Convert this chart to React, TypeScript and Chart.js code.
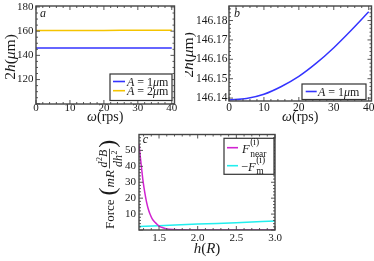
import React, { useEffect, useRef } from 'react';
import { Chart, registerables } from 'chart.js';
Chart.register(...registerables);

const FONT = "'Liberation Serif', 'Times New Roman', serif";
const INK = '#1a1a1a';
const FRAME = '#444';
const BLUE = '#3434ff';
const YELLOW = '#f5c400';
const MAGENTA = '#d024d0';
const CYAN = '#22eeee';

// Panel a / b : rotation rate vs. gap
const omega = [0, 5, 10, 15, 20, 25, 30, 35, 40];
const height1um = [146.139, 146.1398, 146.142, 146.146, 146.1512, 146.158, 146.166, 146.175, 146.1845];
const height2um = [160.55, 160.56, 160.58, 160.6, 160.63, 160.66, 160.7, 160.75, 160.8];
const omegaTicks = [0, 10, 20, 30, 40];
const heightTicksA = [120, 140, 160, 180];
const heightTicksB = [146.14, 146.15, 146.16, 146.17, 146.18];

// Panel c : forces vs. h
const hNear = [1.241, 1.26, 1.276, 1.29, 1.306, 1.325, 1.341, 1.36, 1.383, 1.41, 1.448, 1.48, 1.513, 1.55, 1.6, 1.7, 1.8, 1.9, 2.0, 2.2, 2.5, 3.0];
const forceNear = [54, 45, 38, 32, 26.5, 21, 17, 13.3, 10, 7.2, 4.8, 3.3, 2.1, 1.4, 0.7, 0.25, 0.08, 0.03, 0.01, 0.005, 0.002, 0.001];
const hM = [1.241, 1.5, 2.0, 2.5, 3.0];
const forceM = [2.2, 2.7, 3.7, 4.6, 5.6];
const hTicks = [1.5, 2.0, 2.5, 3.0];
const forceTicks = [10, 20, 30, 40, 50];

type Run = { t: string; it?: boolean; sz?: number; dy?: number; sup?: string; sub?: string; ssz?: number; supDy?: number; subDy?: number };

function font(sz: number, it?: boolean) {
  return `${it ? 'italic ' : ''}${sz}px ${FONT}`;
}

function runWidth(ctx: CanvasRenderingContext2D, r: Run, base: number) {
  ctx.font = font(r.sz ?? base, r.it);
  let w = ctx.measureText(r.t).width;
  if (r.sup || r.sub) {
    ctx.font = font(r.ssz ?? base * 0.72);
    const a = r.sup ? ctx.measureText(r.sup).width : 0;
    const b = r.sub ? ctx.measureText(r.sub).width : 0;
    w += Math.max(a, b) + 0.5;
  }
  return w;
}

function drawRich(ctx: CanvasRenderingContext2D, runs: Run[], x: number, y: number, base: number, align: 'left' | 'center' = 'left') {
  let total = 0;
  for (const r of runs) total += runWidth(ctx, r, base);
  let cx = align === 'center' ? x - total / 2 : x;
  ctx.textAlign = 'left';
  ctx.textBaseline = 'alphabetic';
  ctx.fillStyle = INK;
  for (const r of runs) {
    ctx.font = font(r.sz ?? base, r.it);
    ctx.fillText(r.t, cx, y + (r.dy ?? 0));
    cx += ctx.measureText(r.t).width;
    if (r.sup || r.sub) {
      ctx.font = font(r.ssz ?? base * 0.72);
      let w = 0;
      if (r.sup) {
        ctx.fillText(r.sup, cx + 0.5, y + (r.supDy ?? -base * 0.45));
        w = Math.max(w, ctx.measureText(r.sup).width);
      }
      if (r.sub) {
        ctx.fillText(r.sub, cx + 0.5, y + (r.subDy ?? base * 0.25));
        w = Math.max(w, ctx.measureText(r.sub).width);
      }
      cx += w + 0.5;
    }
  }
  return total;
}

function drawRichRot(ctx: CanvasRenderingContext2D, runs: Run[], bx: number, cy: number, base: number) {
  ctx.save();
  ctx.translate(bx, cy);
  ctx.rotate(-Math.PI / 2);
  drawRich(ctx, runs, 0, 0, base, 'center');
  ctx.restore();
}

function line(ctx: CanvasRenderingContext2D, x1: number, y1: number, x2: number, y2: number) {
  ctx.beginPath();
  ctx.moveTo(x1, y1);
  ctx.lineTo(x2, y2);
  ctx.stroke();
}

function frameTicks(ctx: CanvasRenderingContext2D, chart: any, xMajorStep: number, xMinorStep: number, yMajorStep: number, yMinorStep: number) {
  const { left, right, top, bottom } = chart.chartArea;
  const xs = chart.scales.x;
  const ys = chart.scales.y;
  ctx.save();
  ctx.strokeStyle = FRAME;
  ctx.lineWidth = 0.9;
  const eps = 1e-9;
  const x0 = Math.ceil(xs.min / xMinorStep - eps) * xMinorStep;
  for (let v = x0; v <= xs.max + eps; v += xMinorStep) {
    const major = Math.abs(v / xMajorStep - Math.round(v / xMajorStep)) < 1e-6;
    const L = major ? 4 : 2;
    const p = xs.getPixelForValue(v);
    line(ctx, p, bottom, p, bottom - L);
    line(ctx, p, top, p, top + L);
  }
  const y0 = Math.ceil(ys.min / yMinorStep - eps) * yMinorStep;
  for (let v = y0; v <= ys.max + eps; v += yMinorStep) {
    const major = Math.abs(v / yMajorStep - Math.round(v / yMajorStep)) < 1e-6;
    const L = major ? 4 : 2;
    const p = ys.getPixelForValue(v);
    line(ctx, left, p, left + L, p);
    line(ctx, right, p, right - L, p);
  }
  ctx.lineWidth = 1.4;
  ctx.strokeRect(left, top, right - left, bottom - top);
  ctx.restore();
}

function legendBox(ctx: CanvasRenderingContext2D, x1: number, y1: number, x2: number, y2: number) {
  ctx.save();
  ctx.fillStyle = '#fff';
  ctx.fillRect(x1, y1, x2 - x1, y2 - y1);
  ctx.strokeStyle = '#333';
  ctx.lineWidth = 1.2;
  ctx.strokeRect(x1, y1, x2 - x1, y2 - y1);
  ctx.restore();
}

function legendLine(ctx: CanvasRenderingContext2D, color: string, x1: number, x2: number, y: number) {
  ctx.save();
  ctx.strokeStyle = color;
  ctx.lineWidth = 1.6;
  line(ctx, x1, y, x2, y);
  ctx.restore();
}

const omegaTitle: Run[] = [{ t: 'ω', it: true }, { t: '(rps)' }];
const heightTitle: Run[] = [{ t: '2' }, { t: 'h', it: true }, { t: '(' }, { t: 'μ', it: true }, { t: 'm)' }];
const amp1: Run[] = [{ t: 'A', it: true }, { t: ' = 1' }, { t: 'μ', it: true }, { t: 'm' }];
const amp2: Run[] = [{ t: 'A', it: true }, { t: ' = 2' }, { t: 'μ', it: true }, { t: 'm' }];

type Opt = {
  pad: { left: number; right: number; top: number; bottom: number };
  yW: number; xH: number;
  xMin: number; xMax: number; yMin: number; yMax: number;
  xTicks: number[]; yTicks: number[];
  xFmt: (v: number) => string; yFmt: (v: number) => string;
  size: number; xPad: number; yPad: number;
};

function makeOptions(o: Opt): any {
  return {
    responsive: false,
    animation: false,
    devicePixelRatio: 1,
    layout: { padding: o.pad },
    plugins: { legend: { display: false }, tooltip: { enabled: false }, title: { display: false } },
    scales: {
      x: {
        type: 'linear', min: o.xMin, max: o.xMax,
        grid: { display: false, drawTicks: false }, border: { display: false },
        afterBuildTicks: (s: any) => { s.ticks = o.xTicks.map((v) => ({ value: v })); },
        afterFit: (s: any) => { s.height = o.xH; s.paddingLeft = 0; s.paddingRight = 0; },
        ticks: { font: { family: FONT, size: o.size }, color: INK, padding: o.xPad, maxRotation: 0, autoSkip: false, callback: (v: any) => o.xFmt(Number(v)) },
      },
      y: {
        type: 'linear', min: o.yMin, max: o.yMax,
        grid: { display: false, drawTicks: false }, border: { display: false },
        afterBuildTicks: (s: any) => { s.ticks = o.yTicks.map((v) => ({ value: v })); },
        afterFit: (s: any) => { s.width = o.yW; s.paddingTop = 0; s.paddingBottom = 0; },
        ticks: { font: { family: FONT, size: o.size }, color: INK, padding: o.yPad, autoSkip: false, callback: (v: any) => o.yFmt(Number(v)) },
      },
    },
  };
}

function ds(xs: number[], ys: number[], color: string, smooth = false): any {
  return {
    data: xs.map((x, i) => ({ x, y: ys[i] })),
    borderColor: color,
    borderWidth: 1.5,
    pointRadius: 0,
    fill: false,
    cubicInterpolationMode: smooth ? 'monotone' : 'default',
    tension: 0,
  };
}

function decor(fn: (ctx: CanvasRenderingContext2D, chart: any) => void) {
  return { id: 'decor', afterDraw: (chart: any) => fn(chart.ctx, chart) };
}

function buildA(): any {
  return {
    type: 'line',
    data: { datasets: [ds(omega, height1um, BLUE), ds(omega, height2um, YELLOW)] },
    options: makeOptions({
      pad: { left: 0, right: 10.5, top: 6, bottom: 0 }, yW: 36, xH: 21,
      xMin: 0, xMax: 40.8, yMin: 99.8, yMax: 180.8,
      xTicks: omegaTicks, yTicks: heightTicksA,
      xFmt: (v) => String(v), yFmt: (v) => String(v),
      size: 11, xPad: -2.5, yPad: 2.5,
    }),
    plugins: [decor((ctx, chart) => {
      frameTicks(ctx, chart, 10, 2, 20, 5);
      const { left, right } = chart.chartArea;
      drawRich(ctx, [{ t: 'a', it: true }], 40, 16.5, 12);
      legendBox(ctx, 110, 74, 172, 100.5);
      legendLine(ctx, BLUE, 113, 125, 81.5);
      drawRich(ctx, amp1, 127, 85.5, 12);
      legendLine(ctx, YELLOW, 113, 125, 90.7);
      drawRich(ctx, amp2, 127, 95, 12);
      drawRich(ctx, omegaTitle, (left + right) / 2, 121, 14, 'center');
      drawRichRot(ctx, heightTitle, 15, 57, 15.5);
    })],
  };
}

function buildB(): any {
  return {
    type: 'line',
    data: { datasets: [ds(omega, height1um, BLUE, true)] },
    options: makeOptions({
      pad: { left: 0, right: 2.5, top: 6, bottom: 0 }, yW: 44, xH: 24,
      xMin: 0, xMax: 40.8, yMin: 146.1385, yMax: 146.1875,
      xTicks: omegaTicks, yTicks: heightTicksB,
      xFmt: (v) => String(v), yFmt: (v) => v.toFixed(2),
      size: 11.5, xPad: 0.5, yPad: 1.5,
    }),
    plugins: [decor((ctx, chart) => {
      frameTicks(ctx, chart, 10, 2, 0.01, 0.002);
      const { left, right } = chart.chartArea;
      drawRich(ctx, [{ t: 'b', it: true }], 49, 17, 12);
      legendBox(ctx, 117, 84, 181, 99.5);
      legendLine(ctx, BLUE, 120.7, 131.7, 91.5);
      drawRich(ctx, amp1, 133, 96, 12);
      drawRich(ctx, omegaTitle, (left + right) / 2, 121, 14, 'center');
      drawRichRot(ctx, heightTitle, 8, 55, 15.5);
    })],
  };
}

function buildC(): any {
  return {
    type: 'line',
    data: { datasets: [ds(hNear, forceNear, MAGENTA, true), ds(hM, forceM, CYAN, true)] },
    options: makeOptions({
      pad: { left: 0, right: 99, top: 9.5, bottom: 0 }, yW: 139, xH: 31,
      xMin: 1.241, xMax: 3.0, yMin: 0, yMax: 60,
      xTicks: hTicks, yTicks: forceTicks,
      xFmt: (v) => v.toFixed(1), yFmt: (v) => String(v),
      size: 11, xPad: 2, yPad: 3,
    }),
    plugins: [decor((ctx, chart) => {
      frameTicks(ctx, chart, 0.5, 0.1, 10, 2);
      const { left, right } = chart.chartArea;
      drawRich(ctx, [{ t: 'c', it: true }], 142.7, 18, 12);
      // legend
      legendBox(ctx, 224, 13.3, 274, 49.3);
      legendLine(ctx, MAGENTA, 227, 238, 22.7);
      drawRich(ctx, [{ t: 'F', it: true, sup: '(i)', sub: 'near', ssz: 9.5, supDy: -8, subDy: 3.5 }], 242, 28, 12.5);
      legendLine(ctx, CYAN, 227, 238, 40.7);
      drawRich(ctx, [{ t: '−' }, { t: 'F', it: true, sup: '(i)', sub: 'm', ssz: 9.5, supDy: -8, subDy: 3 }], 241, 45.5, 12.5);
      // x title
      drawRich(ctx, [{ t: 'h', it: true }, { t: '(' }, { t: 'R', it: true }, { t: ')' }], (left + right) / 2, 128, 15, 'center');
      // y title (rotated, with fraction)
      ctx.save();
      ctx.translate(113.5, 104);
      ctx.rotate(-Math.PI / 2);
      ctx.fillStyle = INK;
      ctx.textBaseline = 'alphabetic';
      ctx.textAlign = 'left';
      let x = 0;
      ctx.font = font(13);
      ctx.fillText('Force', x, 0);
      x += ctx.measureText('Force').width + 4;
      ctx.font = font(24);
      ctx.fillText('(', x, 1);
      x += ctx.measureText('(').width;
      ctx.font = font(13, true);
      ctx.fillText('mR', x, 0);
      x += ctx.measureText('mR').width + 1.5;
      const num: Run[] = [{ t: 'd', it: true, sup: '2', ssz: 8, supDy: -5 }, { t: 'B', it: true }];
      const den: Run[] = [{ t: 'dh', it: true, sup: '2', ssz: 8, supDy: -5 }];
      let nw = 0;
      for (const r of num) nw += runWidth(ctx, r, 12);
      let dw = 0;
      for (const r of den) dw += runWidth(ctx, r, 12);
      const fw = Math.max(nw, dw) + 2;
      ctx.strokeStyle = INK;
      ctx.lineWidth = 0.8;
      line(ctx, x, -4, x + fw, -4);
      drawRich(ctx, num, x + fw / 2, -6.5, 12, 'center');
      drawRich(ctx, den, x + fw / 2, 8.5, 12, 'center');
      x += fw + 1;
      ctx.font = font(24);
      ctx.fillText(')', x, 1);
      ctx.restore();
    })],
  };
}

function Panel(props: { left: number; top: number; width: number; height: number; build: () => any }) {
  const ref = useRef<HTMLCanvasElement>(null);
  useEffect(() => {
    const chart = new Chart(ref.current as HTMLCanvasElement, props.build());
    return () => chart.destroy();
  }, []);
  return (
    <canvas
      ref={ref}
      width={props.width}
      height={props.height}
      style={{ position: 'absolute', left: props.left, top: props.top, width: props.width, height: props.height }}
    />
  );
}

export default function App() {
  return (
    <div style={{ position: 'fixed', left: 0, top: 0, width: 374, height: 261, background: '#fff', overflow: 'hidden' }}>
      <Panel left={0} top={0} width={185} height={125} build={buildA} />
      <Panel left={185} top={0} width={189} height={125} build={buildB} />
      <Panel left={0} top={125} width={374} height={136} build={buildC} />
    </div>
  );
}
